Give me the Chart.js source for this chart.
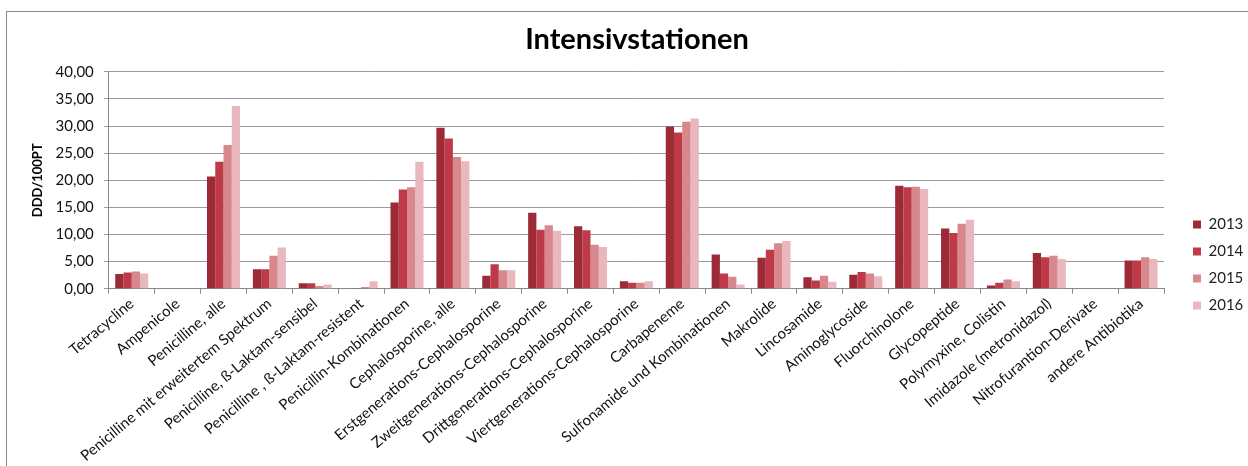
<!DOCTYPE html>
<html>
<head>
<meta charset="utf-8">
<script src="https://cdn.jsdelivr.net/npm/chart.js@4.4.1/dist/chart.umd.min.js"></script>
<style>
  html, body { margin: 0; padding: 0; background: #ffffff; }
  #wrap { width: 1248px; height: 466px; }
</style>
</head>
<body>
<div id="wrap"><canvas id="c" width="1248" height="466"></canvas></div>
<script>
const categories = [
  "Tetracycline", "Ampenicole", "Penicilline, alle",
  "Penicilline mit erweitertem Spektrum", "Penicilline, ß-Laktam-sensibel",
  "Penicilline , ß-Laktam-resistent", "Penicillin-Kombinationen",
  "Cephalosporine, alle", "Erstgenerations-Cephalosporine",
  "Zweitgenerations-Cephalosporine", "Drittgenerations-Cephalosporine",
  "Viertgenerations-Cephalosporine", "Carbapeneme",
  "Sulfonamide und Kombinationen", "Makrolide", "Lincosamide",
  "Aminoglycoside", "Fluorchinolone", "Glycopeptide", "Polymyxine, Colistin",
  "Imidazole (metronidazol)", "Nitrofurantion-Derivate", "andere Antibiotika"
];
const years = ["2013", "2014", "2015", "2016"];
const values2013 = [2.7, 0, 20.7, 3.6, 1.0, 0.1, 15.9, 29.7, 2.4, 14.0, 11.5, 1.4, 29.9, 6.3, 5.7, 2.1, 2.6, 19.0, 11.1, 0.6, 6.6, 0.08, 5.2];
const values2014 = [3.0, 0, 23.4, 3.6, 1.0, 0.15, 18.3, 27.7, 4.5, 10.9, 10.8, 1.1, 28.8, 2.8, 7.2, 1.5, 3.1, 18.7, 10.3, 1.1, 5.8, 0.08, 5.2];
const values2015 = [3.2, 0, 26.5, 6.1, 0.5, 0.3, 18.7, 24.3, 3.4, 11.7, 8.1, 1.1, 30.8, 2.2, 8.4, 2.4, 2.8, 18.8, 12.0, 1.7, 6.1, 0.08, 5.8];
const values2016 = [2.8, 0, 33.7, 7.6, 0.8, 1.4, 23.4, 23.5, 3.4, 10.7, 7.7, 1.4, 31.4, 0.8, 8.8, 1.3, 2.3, 18.4, 12.7, 1.4, 5.5, 0.08, 5.5];
const yTicks = [0, 5, 10, 15, 20, 25, 30, 35, 40];

const seriesValues = [values2013, values2014, values2015, values2016];
const seriesColors = ["#9C2B37", "#BE3A48", "#D8878D", "#E8B8BE"];

const FONT = "Lato, 'Open Sans', sans-serif";

const borderPlugin = {
  id: 'outerBorder',
  beforeDraw(chart) {
    const ctx = chart.ctx;
    ctx.save();
    ctx.strokeStyle = '#8a8a8a';
    ctx.lineWidth = 1;
    ctx.strokeRect(6.5, 11.5, 1260, 470);
    ctx.restore();
  }
};

const legendPlacePlugin = {
  id: 'legendPlace',
  afterInit(chart) {
    const lg = chart.legend;
    if (lg) {
      const origFit = lg.fit.bind(lg);
      lg.fit = function () {
        origFit();
        this.width = 80;
      };
    }
  },
  afterLayout(chart) {
    const lg = chart.legend;
    if (!lg) return;
    lg.left = chart.chartArea.right + 17;
    lg.right = lg.left + 70;
    lg.top = 150;
    lg.bottom = 380;
    if (lg.adjustHitBoxes) lg.adjustHitBoxes();
  }
};

new Chart(document.getElementById('c'), {
  type: 'bar',
  data: {
    labels: categories,
    datasets: years.map((y, i) => ({
      label: y,
      data: seriesValues[i],
      backgroundColor: seriesColors[i],
      borderWidth: 0,
      barPercentage: 1.0,
      categoryPercentage: 0.72
    }))
  },
  options: {
    responsive: false,
    animation: false,
    devicePixelRatio: 1,
    layout: { padding: { left: 30, right: 4, top: 0, bottom: 0 } },
    plugins: {
      title: {
        display: true,
        text: 'Intensivstationen',
        color: '#000',
        font: { family: FONT, size: 29, weight: 'bold' },
        padding: { top: 22, bottom: 15 }
      },
      legend: {
        display: true,
        position: 'right',
        align: 'center',
        labels: {
          color: '#222',
          boxWidth: 8,
          boxHeight: 8,
          padding: 12,
          font: { family: FONT, size: 15 }
        }
      },
      tooltip: { enabled: false }
    },
    scales: {
      x: {
        offset: true,
        grid: {
          display: true,
          offset: true,
          drawOnChartArea: false,
          drawTicks: true,
          tickLength: 5,
          color: '#888'
        },
        border: { display: true, color: '#888' },
        ticks: {
          color: '#111',
          autoSkip: false,
          minRotation: 40,
          maxRotation: 40,
          padding: 1,
          font: { family: FONT, size: 15 }
        }
      },
      y: {
        min: 0,
        max: 40,
        afterBuildTicks(scale) {
          scale.ticks = yTicks.map(v => ({ value: v }));
        },
        grid: {
          color: '#9a9a9a',
          lineWidth: 1,
          drawTicks: true,
          tickLength: 5
        },
        border: { display: true, color: '#888' },
        title: {
          display: true,
          text: 'DDD/100PT',
          color: '#000',
          font: { family: FONT, size: 13, weight: 'bold' },
          padding: { top: 0, bottom: 0 }
        },
        ticks: {
          color: '#111',
          padding: 10,
          font: { family: FONT, size: 15 },
          callback: v => v.toFixed(2).replace('.', ',')
        }
      }
    }
  },
  plugins: [borderPlugin, legendPlacePlugin]
});
</script>
</body>
</html>
